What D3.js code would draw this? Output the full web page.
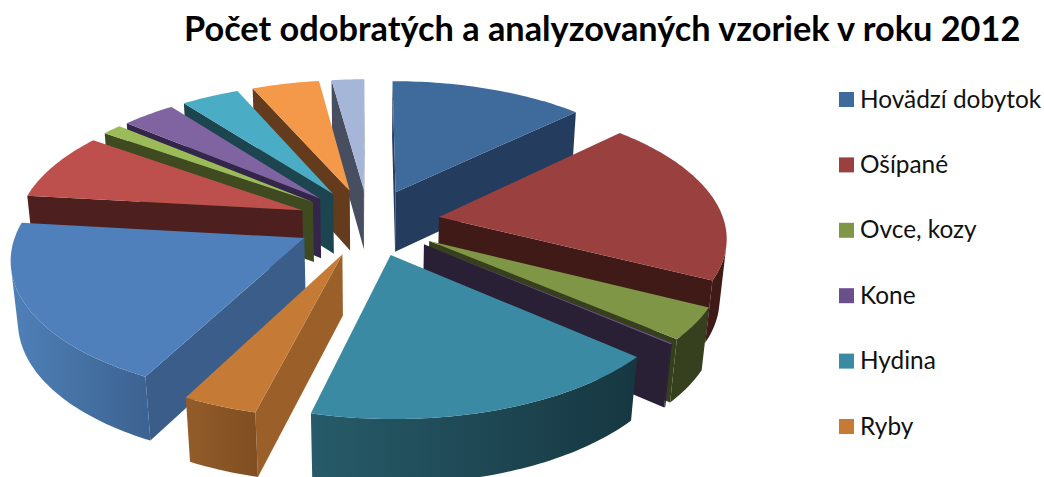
<!DOCTYPE html>
<html>
<head>
<meta charset="utf-8">
<script src="https://cdn.jsdelivr.net/npm/d3@7"></script>
<style>html,body{margin:0;padding:0;background:#fff;overflow:hidden}svg{display:block}</style>
</head>
<body>
<svg id="chart" width="1044" height="477"></svg>
<script>
const chartTitle = "Počet odobratých a analyzovaných vzoriek v roku 2012";
const legendLabels = ["Hovädzí dobytok", "Ošípané", "Ovce, kozy", "Kone", "Hydina", "Ryby"];
const sliceValues = [12.75, 19.75, 3.78, 0.11, 17.56, 3.61, 19.25, 8.03, 1.28, 3.53, 3.81, 4.42, 2.14];
const topColors = ["#3f6a9c", "#9a403e", "#7e9645", "#6a4f8a", "#3b8aa3", "#c57b36", "#4f80bb", "#bd4f4c", "#9bbb59", "#8064a2", "#4bacc6", "#f4984a", "#a6b6d9"];
const cutColors = ["#243c5e", "#3f1a17", "#363f1e", "#2a2035", "#1c4550", "#9b602a", "#3a5d89", "#4d1f1e", "#3f4a20", "#33264a", "#1c4550", "#643b1c", "#464e5f"];
const rimLeftColors = ["#243c5e", "#3f1a17", "#363f1e", "#2a2035", "#275b69", "#935c2a", "#4f80b8", "#4d1f1e", "#3f4a20", "#33264a", "#1c4550", "#643b1c", "#464e5f"];
const rimRightColors = ["#243c5e", "#3f1a17", "#363f1e", "#2a2035", "#163741", "#804e22", "#3c6290", "#4d1f1e", "#3f4a20", "#33264a", "#1c4550", "#643b1c", "#464e5f"];

const svg = d3.select("#chart");
const defs = svg.append("defs");
const FONT = "Lato, 'Open Sans', sans-serif";

// Pie layout: clockwise from twelve o'clock
const arcs = d3.pie().sort(null).startAngle(0).endAngle(2 * Math.PI)(sliceValues);

// Perspective pie geometry
const cx = 368.5, cy = 222, Rx = 281, Ry = 131, persp = 0.13;
const radius = 1.015, explode = 0.255, thickness = 60.5;
const sx = d3.scaleLinear().domain([-1, 1]).range([cx - Rx, cx + Rx]);
const sy = d3.scaleLinear().domain([-1, 1]).range([cy + Ry, cy - Ry]);

function project(X, Y, z) {
  const w = 1 + persp * Y + 0.02 * z;
  return [sx(X / w), sy(Y / w) + z * thickness / (1 + 0.1 * Y)];
}
const line = d3.line();
const closed = pts => line(pts) + "Z";
// positive when the points run counter-clockwise on screen
const signedArea = pts => d3.polygonArea(pts);

function sliceShape(d) {
  const mid = (d.startAngle + d.endAngle) / 2;
  const ox = explode * Math.sin(mid), oy = explode * Math.cos(mid);
  const steps = Math.max(2, Math.ceil((d.endAngle - d.startAngle) / 0.02));
  const angles = d3.range(steps + 1).map(i => d.startAngle + (d.endAngle - d.startAngle) * i / steps);
  const rim = angles.map(a => [ox + radius * Math.sin(a), oy + radius * Math.cos(a)]);
  return {apex: [ox, oy], rim, mid};
}

const order = arcs.map((d, i) => ({d, i}))
  .sort((a, b) => Math.cos((b.d.startAngle + b.d.endAngle) / 2) - Math.cos((a.d.startAngle + a.d.endAngle) / 2));

const pieG = svg.append("g");
order.forEach(({d, i}) => {
  const s = sliceShape(d);
  const g = pieG.append("g");
  const T = p => project(p[0], p[1], 0), B = p => project(p[0], p[1], 1);
  const wall = (p, q) => [T(p), T(q), B(q), B(p)];

  // radial cut faces
  const startWall = wall(s.apex, s.rim[0]);
  const endWall = wall(s.apex, s.rim[s.rim.length - 1]);
  if (signedArea(startWall) > 0) g.append("path").attr("d", closed(startWall)).attr("fill", cutColors[i]);
  if (signedArea(endWall) < 0) g.append("path").attr("d", closed(endWall)).attr("fill", cutColors[i]);

  // outer curved wall: only the segments facing the viewer
  const vis = [];
  for (let k = 0; k < s.rim.length - 1; k++) {
    if (signedArea(wall(s.rim[k], s.rim[k + 1])) > 0) {
      if (!vis.length || vis[vis.length - 1] !== s.rim[k]) vis.push(s.rim[k]);
      vis.push(s.rim[k + 1]);
    }
  }
  if (vis.length > 1) {
    const poly = vis.map(T).concat(vis.slice().reverse().map(B));
    const xs = d3.extent(poly, p => p[0]);
    const gid = "rim" + i;
    const lg = defs.append("linearGradient").attr("id", gid).attr("gradientUnits", "userSpaceOnUse")
      .attr("x1", xs[0]).attr("x2", xs[1]).attr("y1", 0).attr("y2", 0);
    lg.append("stop").attr("offset", 0).attr("stop-color", rimLeftColors[i]);
    lg.append("stop").attr("offset", 1).attr("stop-color", rimRightColors[i]);
    g.append("path").attr("d", closed(poly)).attr("fill", `url(#${gid})`);
  }

  // top face
  g.append("path").attr("d", closed([T(s.apex)].concat(s.rim.map(T)))).attr("fill", topColors[i]);
});

// Title
svg.append("text").attr("x", 184).attr("y", 41)
  .attr("font-family", FONT).attr("font-weight", 700).attr("font-size", 34.3)
  .attr("fill", "#000").text(chartTitle);

// Legend
const legY = d3.scalePoint().domain(legendLabels).range([99.5, 426.5]);
const leg = svg.append("g").selectAll("g").data(legendLabels).join("g")
  .attr("transform", d => `translate(0,${legY(d)})`);
leg.append("rect").attr("x", 839).attr("y", -7.5).attr("width", 15).attr("height", 15)
  .attr("fill", (d, i) => topColors[i]);
leg.append("text").attr("x", 860).attr("y", 8)
  .attr("font-family", FONT).attr("font-size", 24.4).attr("fill", "#111").text(d => d);
</script>
</body>
</html>
